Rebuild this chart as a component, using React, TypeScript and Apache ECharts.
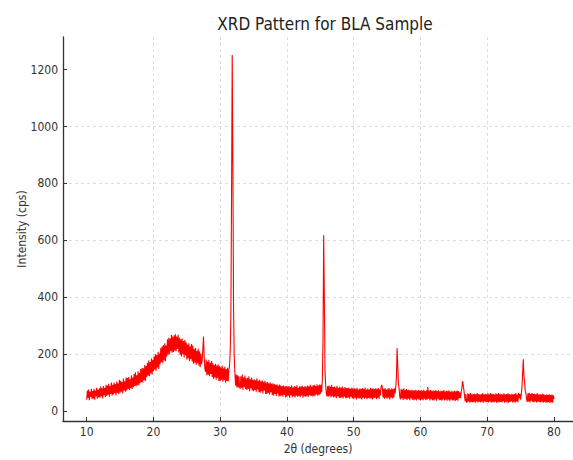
import React, { useEffect, useRef } from "react";
import * as echarts from "echarts";

const titleText = "XRD Pattern for BLA Sample";
const xName = "2θ (degrees)";
const yName = "Intensity (cps)";
const xTicks = [10, 20, 30, 40, 50, 60, 70, 80];
const yTicks = [0, 200, 400, 600, 800, 1000, 1200];

const startAngle = 10;
const stepAngle = 0.1;

// intensities sampled every 0.1° (10.0 – 19.9)
const i10 = [
  40, 72, 46, 76, 38, 68, 50, 78, 42, 70,
  44, 78, 40, 72, 52, 82, 43, 75, 48, 80,
  47, 86, 52, 80, 44, 88, 56, 82, 49, 92,
  53, 90, 57, 96, 50, 88, 60, 100, 54, 92,
  58, 100, 62, 95, 55, 104, 64, 98, 60, 110,
  64, 106, 68, 102, 62, 114, 72, 105, 68, 118,
  72, 116, 78, 120, 74, 112, 80, 126, 78, 118,
  84, 130, 88, 136, 86, 126, 92, 140, 90, 134,
  98, 148, 102, 152, 100, 150, 108, 162, 106, 158,
  120, 170, 124, 178, 122, 172, 132, 185, 128, 180,
];
// 20.0 – 29.9
const i20 = [
  140, 192, 145, 200, 142, 198, 152, 208, 148, 202,
  165, 222, 172, 228, 168, 232, 178, 238, 175, 230,
  192, 252, 198, 258, 200, 255, 210, 268, 205, 262,
  208, 266, 212, 270, 210, 262, 218, 268, 206, 258,
  198, 252, 192, 255, 200, 246, 188, 250, 196, 242,
  180, 234, 186, 238, 176, 228, 182, 236, 174, 230,
  166, 218, 170, 222, 163, 212, 168, 220, 160, 210,
  154, 202, 165, 180, 218, 262, 190, 150, 138, 180,
  126, 174, 128, 180, 122, 170, 130, 176, 120, 168,
  113, 162, 118, 166, 110, 160, 116, 164, 106, 158,
];
// 30.0 – 39.9
const i30 = [
  106, 154, 110, 160, 103, 150, 108, 156, 100, 148,
  106, 152, 104, 145, 160, 210, 340, 760, 1252, 860,
  360, 190, 136, 90, 128, 84, 126, 82, 122, 86,
  78, 122, 82, 128, 75, 118, 84, 125, 78, 115,
  74, 116, 78, 122, 70, 112, 80, 118, 72, 110,
  70, 112, 74, 108, 68, 115, 76, 106, 66, 110,
  64, 105, 70, 108, 62, 102, 72, 106, 60, 100,
  60, 102, 64, 98, 58, 100, 66, 96, 56, 98,
  55, 95, 60, 92, 53, 94, 62, 90, 51, 93,
  52, 90, 55, 88, 50, 90, 57, 86, 48, 88,
];
// 40.0 – 49.9
const i40 = [
  50, 86, 54, 88, 47, 84, 56, 90, 49, 83,
  52, 88, 48, 85, 54, 91, 50, 82, 53, 87,
  49, 86, 55, 89, 47, 84, 52, 88, 50, 85,
  52, 90, 50, 87, 56, 92, 53, 86, 51, 91,
  54, 92, 52, 88, 58, 94, 55, 90, 56, 93,
  60, 92, 66, 110, 250, 618, 400, 140, 90, 62,
  52, 88, 50, 90, 54, 86, 48, 92, 52, 84,
  48, 86, 50, 83, 45, 88, 52, 82, 47, 85,
  46, 82, 49, 86, 44, 80, 50, 84, 45, 81,
  45, 81, 48, 83, 43, 78, 50, 82, 44, 80,
];
// 50.0 – 59.9
const i50 = [
  43, 80, 47, 78, 41, 82, 46, 76, 43, 79,
  45, 78, 41, 81, 47, 77, 43, 83, 46, 76,
  42, 79, 46, 76, 43, 82, 45, 78, 41, 80,
  44, 77, 47, 80, 42, 78, 46, 81, 43, 76,
  55, 85, 92, 80, 48, 78, 43, 80, 47, 76,
  43, 78, 47, 81, 41, 76, 48, 80, 44, 77,
  48, 80, 62, 85, 120, 222, 160, 95, 80, 50,
  41, 78, 45, 76, 39, 80, 43, 74, 42, 77,
  39, 74, 43, 76, 38, 72, 45, 75, 40, 73,
  38, 73, 41, 75, 37, 71, 43, 74, 39, 72,
];
// 60.0 – 69.9
const i60 = [
  37, 74, 41, 71, 38, 76, 43, 70, 39, 73,
  40, 84, 43, 72, 37, 74, 42, 71, 38, 72,
  37, 71, 41, 74, 36, 70, 43, 73, 38, 69,
  39, 72, 36, 70, 41, 74, 37, 69, 40, 71,
  36, 70, 40, 73, 35, 68, 41, 71, 37, 69,
  38, 71, 35, 69, 39, 72, 36, 70, 45, 66,
  45, 66, 80, 105, 92, 75, 55, 34, 60, 32,
  30, 62, 34, 60, 29, 63, 32, 58, 31, 61,
  32, 61, 29, 59, 34, 63, 30, 60, 33, 58,
  30, 60, 33, 62, 29, 58, 34, 61, 31, 59,
];
// 70.0 – 80.0
const i70 = [
  32, 62, 30, 59, 34, 63, 29, 60, 32, 61,
  30, 58, 33, 62, 29, 60, 32, 63, 30, 59,
  32, 61, 30, 58, 34, 62, 29, 59, 33, 60,
  31, 62, 29, 60, 32, 58, 34, 61, 30, 59,
  32, 60, 30, 63, 34, 58, 31, 64, 45, 60,
  40, 60, 82, 130, 182, 125, 100, 70, 62, 42,
  32, 62, 34, 64, 30, 60, 36, 63, 32, 61,
  31, 61, 34, 59, 30, 63, 33, 58, 32, 60,
  30, 58, 33, 61, 29, 59, 32, 56, 30, 58,
  29, 57, 32, 59, 28, 56, 31, 58, 29, 55,
  42,
];

const intensity = [...i10, ...i20, ...i30, ...i40, ...i50, ...i60, ...i70];

const FONT = "'DejaVu Sans Condensed', 'Liberation Sans Narrow', 'DejaVu Sans', sans-serif";

export default function App() {
  const ref = useRef<HTMLDivElement>(null);
  useEffect(() => {
    if (!ref.current) return;
    const chart = echarts.init(ref.current, undefined, { renderer: "svg" });
    const data = intensity.map((v, i) => [
      Math.round((startAngle + i * stepAngle) * 10) / 10,
      v,
    ]);
    const split = {
      show: true,
      showMinLine: false,
      showMaxLine: false,
      lineStyle: { color: "#d4d4d4", type: [3, 3], width: 0.8 },
    };
    chart.setOption({
      animation: false,
      backgroundColor: "#ffffff",
      title: {
        text: titleText,
        left: 320,
        top: 10,
        textAlign: "center",
        textStyle: {
          fontFamily: FONT,
          fontSize: 17,
          fontWeight: "normal",
          color: "#222",
        },
      },
      grid: { left: 63, right: 0, top: 37, bottom: 39 },
      xAxis: {
        type: "value",
        min: 6.45,
        max: 82.85,
        splitNumber: 8,
        name: xName,
        nameLocation: "middle",
        nameGap: 20,
        nameTextStyle: { fontFamily: FONT, fontSize: 12, color: "#333", verticalAlign: "top" },
        axisLine: { show: true, onZero: false, lineStyle: { color: "#333", width: 1.3 } },
        axisTick: { show: true, inside: true, length: 4, customValues: xTicks, lineStyle: { color: "#333" } },
        axisLabel: {
          customValues: xTicks,
          margin: 5,
          fontFamily: FONT,
          fontSize: 12,
          color: "#333",
          formatter: (v: number) => String(v),
        },
        splitLine: split,
      },
      yAxis: {
        type: "value",
        min: -35,
        max: 1315,
        splitNumber: 7,
        name: yName,
        nameLocation: "middle",
        nameGap: 35,
        nameMoveOverlap: false,
        nameTextStyle: { fontFamily: FONT, fontSize: 12, color: "#333" },
        axisLine: { show: true, onZero: false, lineStyle: { color: "#333", width: 1.3 } },
        axisTick: { show: true, inside: true, length: 4, customValues: yTicks, lineStyle: { color: "#333" } },
        axisLabel: {
          customValues: yTicks,
          margin: 5,
          fontFamily: FONT,
          fontSize: 12,
          color: "#333",
          formatter: (v: number) => String(v),
        },
        splitLine: split,
      },
      series: [
        {
          type: "line",
          data,
          showSymbol: false,
          symbol: "none",
          lineStyle: { color: "#ff0000", width: 1.1 },
          itemStyle: { color: "#ff0000" },
        },
      ],
    });
    return () => chart.dispose();
  }, []);
  return (
    <div
      ref={ref}
      style={{ position: "absolute", left: 0, top: 0, width: 573, height: 460 }}
    />
  );
}
